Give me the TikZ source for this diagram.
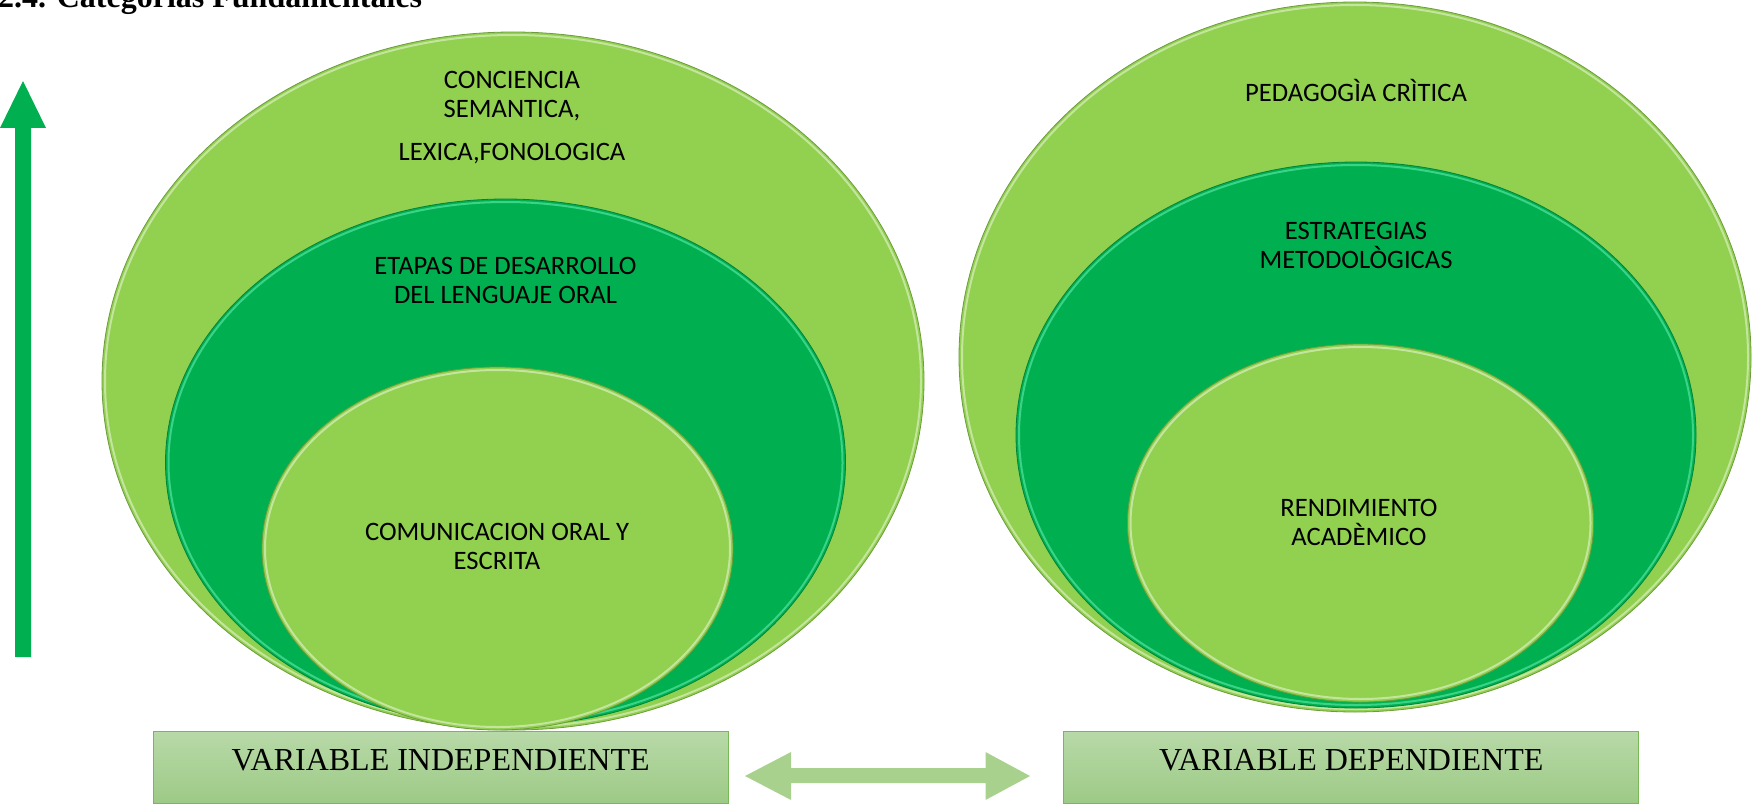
\documentclass[tikz,border=0pt]{standalone}
\usepackage{fontspec}
\setmainfont{Liberation Serif}
\newfontfamily\calib{Carlito}
\definecolor{lgreen}{RGB}{146,208,80}
\definecolor{dgreen}{RGB}{0,176,80}
\definecolor{boxtop}{RGB}{184,217,168}
\definecolor{boxbot}{RGB}{157,202,134}
\definecolor{boxline}{RGB}{120,185,85}
\definecolor{arrowlight}{RGB}{169,209,142}
\definecolor{rimcyan}{RGB}{130,255,205}
\begin{document}
\begin{tikzpicture}[x=1pt,y=-1pt,
  ellL/.style={fill=lgreen, draw=lgreen!75!black, line width=0.8pt},
  ellD/.style={fill=dgreen, draw=dgreen!75!black, line width=0.8pt},
  rimL/.style={draw=white, draw opacity=0.45, line width=2pt},
  rimD/.style={draw=rimcyan, draw opacity=0.45, line width=2pt},
  lbl/.style={font=\calib\fontsize{26.6}{29}\selectfont, align=center, text=black, inner sep=0pt},
  varbox/.style={draw=boxline, line width=1pt, top color=boxtop, bottom color=boxbot,
    minimum width=575pt, minimum height=72pt, inner sep=0pt,
    font=\fontsize{32}{36}\selectfont, text height=21pt, text depth=14pt},
  titlefont/.style={font=\bfseries\fontsize{32}{36}\selectfont, inner sep=0pt}
]
\useasboundingbox (0,0) rectangle (1752,805);

% title (cut by the top edge)
\node[titlefont, anchor=base west] (title) at (-2,8) {2.4. Categorías Fundamentales};

% vertical arrow
\fill[dgreen] (15,657) -- (15,128) -- (0,128) -- (23,81) -- (46,128) -- (31,128) -- (31,657) -- cycle;

% left nested ellipses
\path[ellL] (513,381) ellipse [x radius=411, y radius=349];
\path[rimL] (513,381) ellipse [x radius=408, y radius=346];
\path[ellD] (505.5,462.5) ellipse [x radius=340, y radius=263.5];
\path[rimD] (505.5,462.5) ellipse [x radius=337, y radius=260.5];
\path[ellL] (497.5,548.5) ellipse [x radius=235.5, y radius=181.5];
\path[rimL] (497.5,548.5) ellipse [x radius=232.5, y radius=178.5];

% right nested ellipses
\path[ellL] (1355,357) ellipse [x radius=396, y radius=355];
\path[rimL] (1355,357) ellipse [x radius=393, y radius=352];
\path[ellD] (1356,435) ellipse [x radius=340, y radius=273];
\path[rimD] (1356,435) ellipse [x radius=337, y radius=270];
\path[ellL] (1360.5,523) ellipse [x radius=233, y radius=179];
\path[rimL] (1360.5,523) ellipse [x radius=230, y radius=176];

% labels left
\node[lbl] (conc) at (512,95.7) {CONCIENCIA\\SEMANTICA,};
\node[lbl] (lex) at (512,154) {LEXICA,FONOLOGICA};
\node[lbl] (etapas) at (505.5,280.5) {ETAPAS DE DESARROLLO\\DEL LENGUAJE ORAL};
\node[lbl] (comun) at (497,546) {COMUNICACION ORAL Y\\ESCRITA};

% labels right
\node[lbl] (peda) at (1356,90) {PEDAGOGÌA CRÌTICA};
\node[lbl] (estr) at (1356,245.6) {ESTRATEGIAS\\METODOLÒGICAS};
\node[lbl] (rend) at (1359,522) {RENDIMIENTO\\ACADÈMICO};

% variable boxes
\node[varbox] (vi) at (440.7,767) {VARIABLE INDEPENDIENTE};
\node[varbox] (vd) at (1351.3,767) {VARIABLE DEPENDIENTE};

% double arrow between boxes
\fill[arrowlight] (745,776) -- (791,752) -- (791,768) -- (985.5,768) -- (985.5,752)
  -- (1030,776) -- (985.5,800) -- (985.5,783) -- (791,783) -- (791,800) -- cycle;
\end{tikzpicture}
\end{document}
